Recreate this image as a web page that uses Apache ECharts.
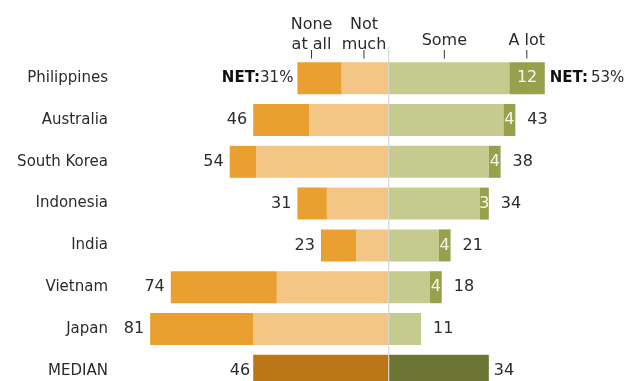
<!DOCTYPE html>
<html>
<head>
<meta charset="utf-8">
<script src="https://cdn.jsdelivr.net/npm/echarts@6/dist/echarts.min.js"></script>
<style>
  html, body { margin: 0; padding: 0; background: #fff; }
  #chart { width: 628px; height: 381px; }
</style>
</head>
<body>
<div id="chart"></div>
<script>
// ---- data ----
const categories = ['Philippines', 'Australia', 'South Korea', 'Indonesia', 'India', 'Vietnam', 'Japan', 'MEDIAN'];
const noneAtAll = [15, 19, 9, 10, 12, 36, 35, null];
const notMuch   = [16, 27, 45, 21, 11, 38, 46, null];
const some      = [41, 39, 34, 31, 17, 14, 11, null];
const aLot      = [12, 4, 4, 3, 4, 4, 0, null];
const netLeft   = [31, 46, 54, 31, 23, 74, 81, 46];
const netRight  = [53, 43, 38, 34, 21, 18, 11, 34];
const headerLines = [['None', 'at all'], ['Not', 'much'], ['Some'], ['A lot']];

// ---- styling ----
const FONT = 'DejaVu Sans';
const C_NONE = '#eaa030', C_NOT = '#f3c686', C_SOME = '#c5cb8f', C_ALOT = '#97a04b';
const C_MED_L = '#bd7615', C_MED_R = '#6d7535';
const TXT = '#2b2b2b';
const NUM_SIZE = 16;
const medianIdx = categories.indexOf('MEDIAN');

const chart = echarts.init(document.getElementById('chart'), null, { renderer: 'canvas' });

const neg = v => (v == null ? null : -v);
const barBase = { type: 'bar', stack: 'net', barWidth: 32, animation: false, emphasis: { disabled: true } };

const leftTotals = netLeft.map((v, i) => {
  const item = { value: [-v, i] };
  if (i === 0) item.label = { distance: 4, formatter: '{b|NET:}{n|' + v + '%}' };
  if (i === medianIdx) item.label = { distance: 3 };
  return item;
});
const rightTotals = netRight.map((v, i) => {
  const item = { value: [v, i] };
  if (i === 0) item.label = { distance: 5, formatter: '{b|NET:}{n|\u2009' + v + '%}' };
  if (i === medianIdx) item.label = { distance: 5 };
  return item;
});

const labelText = {
  fontFamily: FONT, fontSize: NUM_SIZE, color: TXT, opacity: 1,
  rich: {
    b: { fontFamily: FONT, fontSize: 15, fontWeight: 'bold', color: '#111' },
    n: { fontFamily: FONT, fontSize: 15, color: TXT }
  }
};

chart.setOption({
  animation: false,
  grid: { left: 120, right: 8, top: 57.3, bottom: -10.7, containLabel: false, outerBoundsMode: 'none' },
  xAxis: {
    type: 'value', min: -91.24, max: 78.54,
    axisLine: { show: false }, axisTick: { show: false }, axisLabel: { show: false }, splitLine: { show: false }
  },
  yAxis: {
    type: 'category', data: categories, inverse: true,
    axisLine: { show: false }, axisTick: { show: false }, splitLine: { show: false },
    axisLabel: { margin: 12, fontFamily: FONT, fontSize: 15, color: TXT }
  },
  series: [
    Object.assign({}, barBase, { name: 'Not much', data: notMuch.map(neg), itemStyle: { color: C_NOT } }),
    Object.assign({}, barBase, { name: 'None at all', data: noneAtAll.map(neg), itemStyle: { color: C_NONE } }),
    Object.assign({}, barBase, { name: 'Median left', data: categories.map((c, i) => i === medianIdx ? -netLeft[i] : null), itemStyle: { color: C_MED_L } }),
    Object.assign({}, barBase, { name: 'Some', data: some, itemStyle: { color: C_SOME } }),
    Object.assign({}, barBase, {
      name: 'A lot', data: aLot, itemStyle: { color: C_ALOT },
      label: { show: true, position: 'inside', fontFamily: FONT, fontSize: NUM_SIZE, color: '#f6f6ee',
        formatter: p => (p.value ? String(p.value) : '') }
    }),
    Object.assign({}, barBase, { name: 'Median right', data: categories.map((c, i) => i === medianIdx ? netRight[i] : null), itemStyle: { color: C_MED_R } }),
    {
      type: 'scatter', name: 'Left totals', data: leftTotals, symbolSize: 0.01, itemStyle: { color: TXT, opacity: 1 },
      animation: false, silent: true, z: 5,
      label: Object.assign({ show: true, position: 'left', distance: 6, formatter: p => String(-p.value[0]) }, labelText)
    },
    {
      type: 'scatter', name: 'Right totals', data: rightTotals, symbolSize: 0.01, itemStyle: { color: TXT, opacity: 1 },
      animation: false, silent: true, z: 5,
      label: Object.assign({ show: true, position: 'right', distance: 12, formatter: p => String(p.value[0]) }, labelText)
    }
  ]
});

// header labels, ticks and centre line placed through the x scale
const headerAt = [-26.2, -8.4, 18.9, 46.9];
const px = v => chart.convertToPixel({ xAxisIndex: 0 }, v);
const graphics = [];
const x0 = px(0);
graphics.push({ type: 'line', z: 10, silent: true, shape: { x1: x0, y1: 47, x2: x0, y2: 381 }, style: { stroke: '#d6d6d6', lineWidth: 1.2 } });
headerLines.forEach((lines, k) => {
  const x = px(headerAt[k]);
  const ys = lines.length === 2 ? [24.5, 44.5] : [41.2];
  lines.forEach((t, j) => {
    graphics.push({ type: 'text', silent: true, x: x, y: ys[j], style: { text: t, fontFamily: FONT, fontSize: 16, fill: TXT, align: 'center', verticalAlign: 'middle' } });
  });
  graphics.push({ type: 'line', silent: true, shape: { x1: x, y1: 50, x2: x, y2: 58.5 }, style: { stroke: '#333', lineWidth: 1 } });
});
chart.setOption({ graphic: graphics });
</script>
</body>
</html>
